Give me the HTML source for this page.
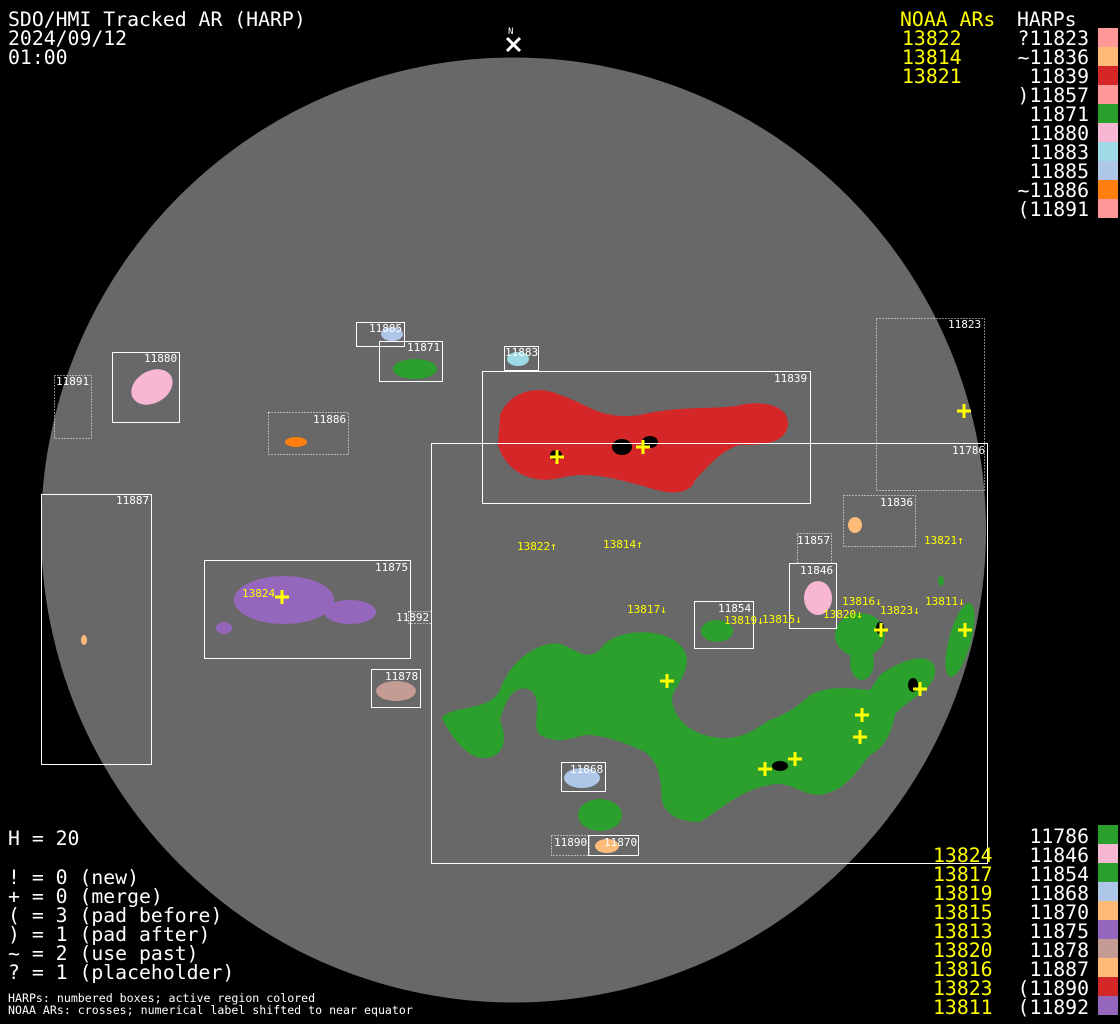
<!DOCTYPE html>
<html><head><style>
html,body{margin:0;padding:0;background:#000;width:1120px;height:1024px;overflow:hidden}
svg{display:block}
.t{font-family:"DejaVu Sans Mono","Liberation Mono",monospace;font-size:19.8px;fill:#fff}
.y{fill:#ffff00}
.s{font-family:"DejaVu Sans Mono","Liberation Mono",monospace;font-size:11px;fill:#fff}
.sm{font-family:"DejaVu Sans Mono","Liberation Mono",monospace;font-size:11.6px;fill:#fff}
.sy{font-family:"DejaVu Sans Mono","Liberation Mono",monospace;font-size:11px;fill:#ffff00}
.b{fill:none;stroke:#fff;stroke-width:1}
.d{fill:none;stroke:#fff;stroke-width:1;stroke-dasharray:1 2}
.x{stroke:#ffff00;stroke-width:3}
</style></head><body>
<svg width="1120" height="1024" viewBox="0 0 1120 1024">
<rect width="1120" height="1024" fill="#000"/>
<circle cx="513.5" cy="530" r="472.5" fill="#686868"/>

<path d="M500,415 C510,390 540,385 560,395 C590,405 600,420 640,415 C680,405 720,410 740,405 C760,400 790,405 788,425 C785,445 760,445 740,445 C720,450 705,470 695,480 C690,495 670,495 650,488 C620,480 590,470 560,478 C530,485 505,470 498,445 Z" fill="#d62728"/>
<ellipse cx="622" cy="447" rx="10" ry="8" fill="#000"/>
<ellipse cx="650" cy="442" rx="8" ry="6" fill="#000"/>
<ellipse cx="556" cy="455" rx="6" ry="5" fill="#000"/>
<path d="M442,718 C450,705 490,712 500,690 C510,660 540,640 560,644 C575,648 585,662 600,650 C610,630 660,625 680,645 C700,665 670,690 672,700 C675,720 690,735 720,738 C745,740 760,725 770,720 C785,715 800,705 810,695 C830,685 850,688 870,690 L880,675 C900,660 930,650 935,668 C938,690 905,700 895,715 C890,740 880,750 870,755 C860,765 850,790 820,795 C800,795 790,780 770,785 C740,790 720,810 700,822 C680,822 665,815 662,800 C660,775 660,765 645,752 C620,740 600,735 585,735 C570,738 560,745 540,735 C530,725 545,700 530,690 C515,683 505,700 500,720 C510,745 500,760 480,758 C465,755 450,735 442,718 Z" fill="#2ca02c"/>
<ellipse cx="860" cy="635" rx="25" ry="22" fill="#2ca02c"/>
<ellipse cx="862" cy="662" rx="12" ry="18" fill="#2ca02c"/>
<ellipse cx="960" cy="640" rx="11" ry="38" transform="rotate(15 960 640)" fill="#2ca02c"/>
<ellipse cx="717" cy="631" rx="16" ry="11" fill="#2ca02c"/>
<ellipse cx="600" cy="815" rx="22" ry="16" fill="#2ca02c"/>
<ellipse cx="941" cy="581" rx="3" ry="5" fill="#2ca02c"/>
<ellipse cx="780" cy="766" rx="8" ry="5" fill="#000"/>
<ellipse cx="913" cy="685" rx="5" ry="7" fill="#000"/>
<ellipse cx="880" cy="628" rx="4" ry="6" fill="#000"/>
<ellipse cx="284" cy="600" rx="50" ry="24" fill="#9467bd"/>
<ellipse cx="350" cy="612" rx="26" ry="12" fill="#9467bd"/>
<ellipse cx="224" cy="628" rx="8" ry="6" fill="#9467bd"/>
<ellipse cx="152" cy="387" rx="22" ry="16" transform="rotate(-30 152 387)" fill="#f7b6d2"/>
<ellipse cx="415" cy="369" rx="22" ry="10" fill="#2ca02c"/>
<ellipse cx="392" cy="334" rx="11" ry="7" fill="#aec7e8"/>
<ellipse cx="518" cy="359" rx="11" ry="7" fill="#9edae5"/>
<ellipse cx="296" cy="442" rx="11" ry="5" fill="#ff7f0e"/>
<ellipse cx="855" cy="525" rx="7" ry="8" fill="#ffbb78"/>
<ellipse cx="818" cy="598" rx="14" ry="17" fill="#f7b6d2"/>
<ellipse cx="396" cy="691" rx="20" ry="10" fill="#c49c94"/>
<ellipse cx="582" cy="778" rx="18" ry="10" fill="#aec7e8"/>
<ellipse cx="607" cy="846" rx="12" ry="7" fill="#ffbb78"/>
<ellipse cx="84" cy="640" rx="3" ry="5" fill="#ffbb78"/>

<rect class="b" x="482.5" y="371.5" width="328" height="132"/>
<rect class="b" x="431.5" y="443.5" width="556" height="420"/>
<rect class="d" x="876.5" y="318.5" width="108" height="172"/>
<rect class="b" x="41.5" y="494.5" width="110" height="270"/>
<rect class="b" x="204.5" y="560.5" width="206" height="98"/>
<rect class="b" x="112.5" y="352.5" width="67" height="70"/>
<rect class="d" x="54.5" y="375.5" width="37" height="63"/>
<rect class="b" x="356.5" y="322.5" width="48" height="24"/>
<rect class="b" x="379.5" y="341.5" width="63" height="40"/>
<rect class="b" x="504.5" y="346.5" width="34" height="24"/>
<rect class="d" x="268.5" y="412.5" width="80" height="42"/>
<rect class="d" x="843.5" y="495.5" width="72" height="51"/>
<rect class="d" x="797.5" y="533.5" width="34" height="30"/>
<rect class="b" x="789.5" y="563.5" width="47" height="65"/>
<rect class="b" x="694.5" y="601.5" width="59" height="47"/>
<rect class="b" x="371.5" y="669.5" width="49" height="38"/>
<rect class="b" x="561.5" y="762.5" width="44" height="29"/>
<rect class="d" x="551.5" y="835.5" width="38" height="20"/>
<rect class="b" x="588.5" y="835.5" width="50" height="20"/>
<rect class="d" x="408.5" y="611.5" width="23" height="12"/>

<g class="s">
<text x="774" y="382">11839</text>
<text x="952" y="454">11786</text>
<text x="948" y="328">11823</text>
<text x="116" y="504">11887</text>
<text x="375" y="571">11875</text>
<text x="144" y="362">11880</text>
<text x="56" y="385">11891</text>
<text x="369" y="332">11885</text>
<text x="407" y="351">11871</text>
<text x="505" y="356">11883</text>
<text x="313" y="423">11886</text>
<text x="880" y="506">11836</text>
<text x="797" y="544">11857</text>
<text x="800" y="574">11846</text>
<text x="718" y="612">11854</text>
<text x="385" y="680">11878</text>
<text x="570" y="773">11868</text>
<text x="554" y="846">11890</text>
<text x="604" y="846">11870</text>
<text x="396" y="621">11892</text>
</g>

<g class="x">
<path d="M550,457h14M557,450v14"/>
<path d="M636,447h14M643,440v14"/>
<path d="M957,411h14M964,404v14"/>
<path d="M275,597h14M282,590v14"/>
<path d="M660,681h14M667,674v14"/>
<path d="M874,630h14M881,623v14"/>
<path d="M958,630h14M965,623v14"/>
<path d="M913,689h14M920,682v14"/>
<path d="M855,715h14M862,708v14"/>
<path d="M853,737h14M860,730v14"/>
<path d="M788,759h14M795,752v14"/>
<path d="M758,769h14M765,762v14"/>
</g>
<g class="sy">
<text x="517" y="550">13822↑</text>
<text x="603" y="548">13814↑</text>
<text x="924" y="544">13821↑</text>
<text x="627" y="613">13817↓</text>
<text x="724" y="624">13819↓</text>
<text x="762" y="623">13815↓</text>
<text x="842" y="605">13816↓</text>
<text x="823" y="618">13820↓</text>
<text x="880" y="614">13823↓</text>
<text x="925" y="605">13811↓</text>
<text x="242" y="597">13824</text>
</g>

<text x="508" y="34" style="font-family:'DejaVu Sans Mono',monospace;font-size:9px;fill:#fff">N</text>
<path d="M507,38l13,13M520,38l-13,13" stroke="#fff" stroke-width="3"/>

<text class="t" x="8" y="26">SDO/HMI Tracked AR (HARP)</text>
<text class="t" x="8" y="45">2024/09/12</text>
<text class="t" x="8" y="64">01:00</text>

<g class="t y"><text x="900" y="26">NOAA ARs</text><text x="902" y="45">13822</text><text x="902" y="64">13814</text><text x="902" y="83">13821</text></g>
<text class="t" x="1017" y="26">HARPs</text>
<g class="t" text-anchor="end">
<text x="1089" y="45">?11823</text><text x="1089" y="64">~11836</text><text x="1089" y="83">11839</text><text x="1089" y="102">)11857</text><text x="1089" y="121">11871</text><text x="1089" y="140">11880</text><text x="1089" y="159">11883</text><text x="1089" y="178">11885</text><text x="1089" y="197">~11886</text><text x="1089" y="216">(11891</text>
</g>
<rect x="1098" y="28" width="20" height="19" fill="#ff9896"/>
<rect x="1098" y="47" width="20" height="19" fill="#ffbb78"/>
<rect x="1098" y="66" width="20" height="19" fill="#d62728"/>
<rect x="1098" y="85" width="20" height="19" fill="#ff9896"/>
<rect x="1098" y="104" width="20" height="19" fill="#2ca02c"/>
<rect x="1098" y="123" width="20" height="19" fill="#f7b6d2"/>
<rect x="1098" y="142" width="20" height="19" fill="#9edae5"/>
<rect x="1098" y="161" width="20" height="19" fill="#aec7e8"/>
<rect x="1098" y="180" width="20" height="19" fill="#ff7f0e"/>
<rect x="1098" y="199" width="20" height="19" fill="#ff9896"/>

<g class="t">
<text x="8" y="845">H = 20</text>
<text x="8" y="884">! = 0 (new)</text>
<text x="8" y="903">+ = 0 (merge)</text>
<text x="8" y="922">( = 3 (pad before)</text>
<text x="8" y="941">) = 1 (pad after)</text>
<text x="8" y="960">~ = 2 (use past)</text>
<text x="8" y="979">? = 1 (placeholder)</text>
</g>
<text class="sm" x="8" y="1002">HARPs: numbered boxes; active region colored</text>
<text class="sm" x="8" y="1014">NOAA ARs: crosses; numerical label shifted to near equator</text>

<g class="t y">
<text x="933" y="862">13824</text><text x="933" y="881">13817</text><text x="933" y="900">13819</text><text x="933" y="919">13815</text><text x="933" y="938">13813</text><text x="933" y="957">13820</text><text x="933" y="976">13816</text><text x="933" y="995">13823</text><text x="933" y="1014">13811</text>
</g>
<g class="t" text-anchor="end">
<text x="1089" y="843">11786</text><text x="1089" y="862">11846</text><text x="1089" y="881">11854</text><text x="1089" y="900">11868</text><text x="1089" y="919">11870</text><text x="1089" y="938">11875</text><text x="1089" y="957">11878</text><text x="1089" y="976">11887</text><text x="1089" y="995">(11890</text><text x="1089" y="1014">(11892</text>
</g>
<rect x="1098" y="825" width="20" height="19" fill="#2ca02c"/>
<rect x="1098" y="844" width="20" height="19" fill="#f7b6d2"/>
<rect x="1098" y="863" width="20" height="19" fill="#2ca02c"/>
<rect x="1098" y="882" width="20" height="19" fill="#aec7e8"/>
<rect x="1098" y="901" width="20" height="19" fill="#ffbb78"/>
<rect x="1098" y="920" width="20" height="19" fill="#9467bd"/>
<rect x="1098" y="939" width="20" height="19" fill="#c49c94"/>
<rect x="1098" y="958" width="20" height="19" fill="#ffbb78"/>
<rect x="1098" y="977" width="20" height="19" fill="#d62728"/>
<rect x="1098" y="996" width="20" height="19" fill="#9467bd"/>
</svg>
</body></html>
